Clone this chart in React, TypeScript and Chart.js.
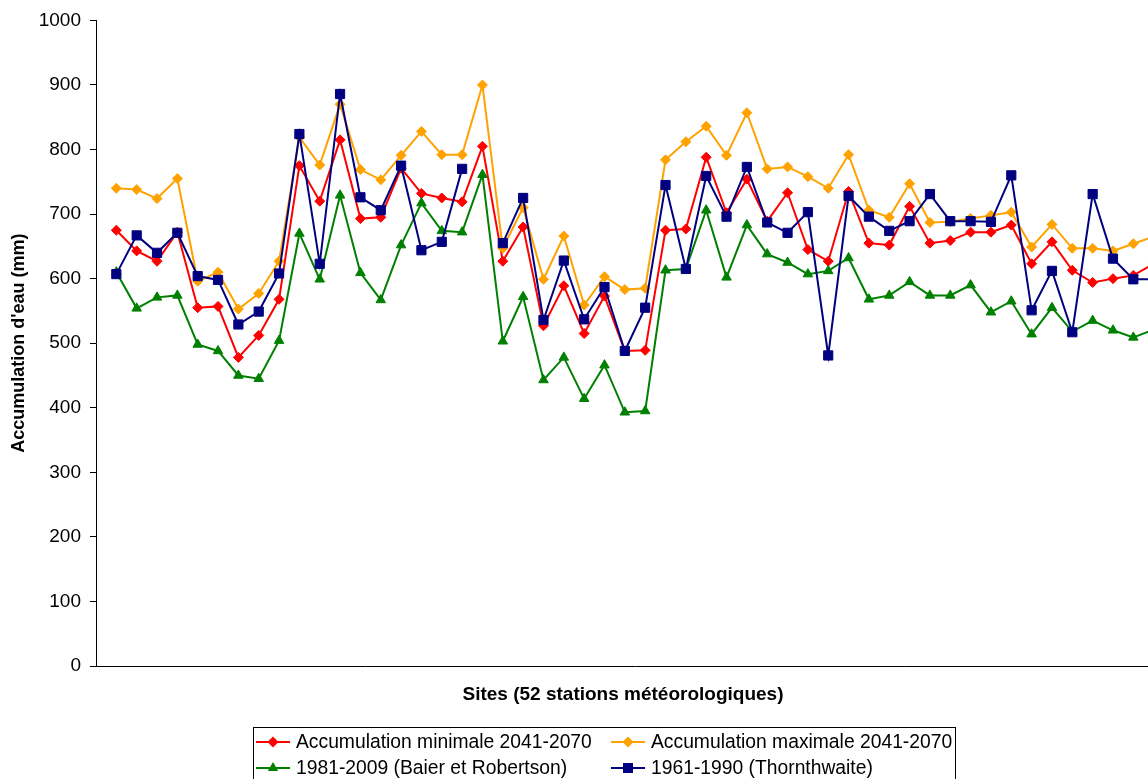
import { useEffect, useRef } from 'react';
import { Chart, registerables } from 'chart.js';

Chart.register(...registerables);

// Station numbers (52 weather stations)
const stations = [
  1, 2, 3, 4, 5, 6, 7, 8, 9, 10, 11, 12, 13, 14, 15, 16, 17, 18, 19, 20, 21, 22, 23, 24, 25, 26,
  27, 28, 29, 30, 31, 32, 33, 34, 35, 36, 37, 38, 39, 40, 41, 42, 43, 44, 45, 46, 47, 48, 49, 50, 51, 52,
];

// Water accumulation (mm) per station
const accMin2041 = [
  675, 643, 627, 672, 555, 557, 478, 512, 568, 775, 720, 815, 693, 695, 771, 732, 725, 719, 805, 627, 680, 527, 589, 515, 573, 488,
  489, 675, 677, 788, 702, 754, 689, 733, 645, 627, 735, 655, 652, 712, 655, 659, 672, 672, 683, 623, 657, 613, 594, 600, 605, 623,
];
const accMax2041 = [
  740, 738, 724, 755, 596, 610, 553, 577, 627, 819, 776, 870, 769, 753, 791, 828, 792, 792, 900, 647, 710, 599, 666, 559, 603, 583,
  585, 784, 812, 836, 791, 857, 770, 773, 758, 740, 792, 706, 695, 747, 687, 688, 693, 698, 703, 649, 684, 647, 647, 643, 654, 665,
];
const baierRobertson = [
  610, 554, 571, 574, 498, 488, 450, 445, 504, 670, 599, 729, 609, 567, 652, 717, 674, 672, 761, 503, 572, 443, 478, 414, 466, 393,
  395, 613, 615, 706, 602, 683, 638, 625, 607, 612, 632, 568, 574, 595, 574, 574, 590, 548, 565, 514, 555, 518, 535, 520, 509, 521,
];
const thornthwaite: (number | null)[] = [
  607, 667, 640, 671, 604, 598, 529, 549, 608, 824, 623, 886, 726, 706, 775, 644, 657, 770, null, 655, 725, 536, 628, 537, 587, 488,
  555, 745, 615, 759, 696, 773, 687, 671, 703, 481, 728, 696, 674, 689, 731, 689, 689, 688, 760, 551, 612, 517, 731, 631, 599, 599,
];

const seriesLabels = [
  'Accumulation minimale 2041-2070',
  'Accumulation maximale 2041-2070',
  '1981-2009 (Baier et Robertson)',
  '1961-1990 (Thornthwaite)',
];
const xTitle = 'Sites (52 stations météorologiques)';
const yTitle = "Accumulation d'eau (mm)";

const FONT = '"Liberation Sans", Arial, Helvetica, sans-serif';

const RED = '#FF0000';
const ORANGE = '#FFA200';
const GREEN = '#008000';
const NAVY = '#000080';

type Marker = 'diamond' | 'triangle' | 'square';

function drawMarker(ctx: CanvasRenderingContext2D, kind: Marker, x: number, y: number, color: string) {
  ctx.fillStyle = color;
  ctx.beginPath();
  if (kind === 'diamond') {
    const r = 5.5;
    ctx.moveTo(x, y - r);
    ctx.lineTo(x + r, y);
    ctx.lineTo(x, y + r);
    ctx.lineTo(x - r, y);
  } else if (kind === 'square') {
    const h = 5;
    ctx.rect(x - h, y - h, 2 * h, 2 * h);
  } else {
    const r = 6;
    ctx.moveTo(x, y - r);
    ctx.lineTo(x + r * 0.866, y + r / 2);
    ctx.lineTo(x - r * 0.866, y + r / 2);
  }
  ctx.closePath();
  ctx.fill();
}

// Bold x-axis caption and the framed two-column legend below the plot
const captionAndLegend = {
  id: 'captionAndLegend',
  afterDraw(chart: Chart) {
    const ctx = chart.ctx;
    ctx.save();
    ctx.fillStyle = '#000';
    ctx.textBaseline = 'middle';
    ctx.textAlign = 'center';
    ctx.font = `bold 19px ${FONT}`;
    ctx.fillText(xTitle, 623, 695);

    ctx.strokeStyle = '#000';
    ctx.lineWidth = 1;
    ctx.strokeRect(253.5, 727.5, 702, 57);

    const entries: { label: string; color: string; marker: Marker; col: number; row: number }[] = [
      { label: seriesLabels[0], color: RED, marker: 'diamond', col: 0, row: 0 },
      { label: seriesLabels[1], color: ORANGE, marker: 'diamond', col: 1, row: 0 },
      { label: seriesLabels[2], color: GREEN, marker: 'triangle', col: 0, row: 1 },
      { label: seriesLabels[3], color: NAVY, marker: 'square', col: 1, row: 1 },
    ];
    const colX = [256, 611];
    const rowY = [742, 768];
    ctx.textAlign = 'left';
    ctx.font = `19.3px ${FONT}`;
    for (const e of entries) {
      const x0 = colX[e.col];
      const y = rowY[e.row];
      ctx.strokeStyle = e.color;
      ctx.lineWidth = 2;
      ctx.beginPath();
      ctx.moveTo(x0, y);
      ctx.lineTo(x0 + 34, y);
      ctx.stroke();
      drawMarker(ctx, e.marker, x0 + 17, y, e.color);
      ctx.fillStyle = '#000';
      ctx.fillText(e.label, x0 + 40, y + 1);
    }
    ctx.restore();
  },
};

export default function App() {
  const canvasRef = useRef<HTMLCanvasElement | null>(null);

  useEffect(() => {
    const canvas = canvasRef.current;
    if (!canvas) return;
    Chart.defaults.font.family = FONT;
    Chart.defaults.color = '#000';

    const toPoints = (vals: (number | null)[]) => stations.map((s, i) => ({ x: s, y: vals[i] }));

    const chart = new Chart(canvas, {
      type: 'line',
      data: {
        datasets: [
          {
            label: seriesLabels[0],
            data: toPoints(accMin2041),
            borderColor: RED,
            backgroundColor: RED,
            pointStyle: 'rectRot',
            pointRadius: 5,
            pointBorderWidth: 1,
            borderWidth: 2,
            order: 4,
          },
          {
            label: seriesLabels[1],
            data: toPoints(accMax2041),
            borderColor: ORANGE,
            backgroundColor: ORANGE,
            pointStyle: 'rectRot',
            pointRadius: 5,
            pointBorderWidth: 1,
            borderWidth: 2,
            order: 3,
          },
          {
            label: seriesLabels[2],
            data: toPoints(baierRobertson),
            borderColor: GREEN,
            backgroundColor: GREEN,
            pointStyle: 'triangle',
            pointRadius: 5.5,
            pointBorderWidth: 1,
            borderWidth: 2,
            order: 2,
          },
          {
            label: seriesLabels[3],
            data: toPoints(thornthwaite),
            borderColor: NAVY,
            backgroundColor: NAVY,
            pointStyle: 'rect',
            pointRadius: 6.5,
            pointBorderWidth: 1,
            borderWidth: 2,
            spanGaps: false,
            order: 1,
          },
        ],
      },
      options: {
        responsive: false,
        animation: false,
        devicePixelRatio: 1,
        layout: { padding: { top: 20, left: 0, right: 11, bottom: 124 } },
        plugins: {
          legend: { display: false },
          tooltip: { enabled: false },
        },
        scales: {
          x: {
            type: 'linear',
            min: 0,
            max: stations.length + 1,
            ticks: { display: false },
            grid: { display: false, drawTicks: false },
            border: { display: true, color: '#000', width: 1 },
            afterFit: (scale: any) => {
              scale.height = 0;
            },
          },
          y: {
            min: 0,
            max: 1000,
            ticks: {
              stepSize: 100,
              padding: 9,
              color: '#000',
              font: { size: 19, family: FONT },
              callback: (value: any) => String(value),
            },
            grid: {
              drawOnChartArea: false,
              drawTicks: true,
              tickLength: 6,
              color: '#000',
            },
            border: { display: true, color: '#000', width: 1 },
            title: {
              display: true,
              text: yTitle,
              color: '#000',
              font: { size: 18, weight: 'bold', family: FONT },
              padding: { top: 8, bottom: 0 },
            },
            afterFit: (scale: any) => {
              scale.width = 96;
            },
          },
        },
      },
      plugins: [captionAndLegend],
    });

    return () => chart.destroy();
  }, []);

  return (
    <div style={{ position: 'fixed', left: 0, top: 0, width: '100vw', height: '100vh', overflow: 'hidden', background: '#fff' }}>
      <canvas ref={canvasRef} width={1185} height={790} style={{ display: 'block' }} />
    </div>
  );
}
